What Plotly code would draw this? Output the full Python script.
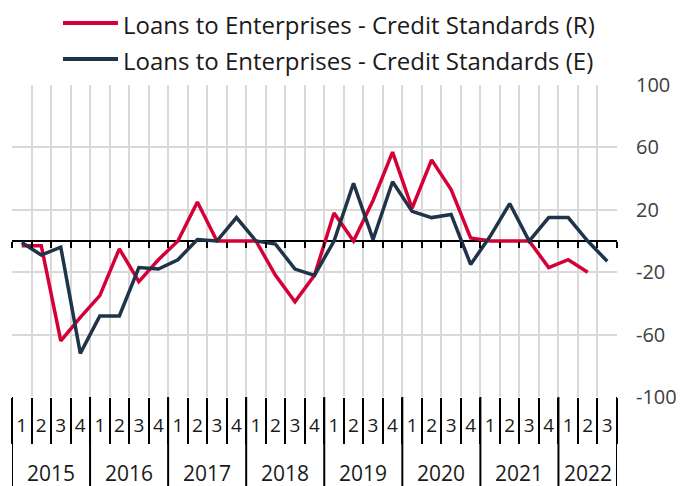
import plotly.graph_objects as go

# ---- data ----
years = ["2015", "2016", "2017", "2018", "2019", "2020", "2021", "2022"]
quarters_per_year = [4, 4, 4, 4, 4, 4, 4, 3]
series_names = ["Loans to Enterprises - Credit Standards (R)",
                "Loans to Enterprises - Credit Standards (E)"]
realised = [-3, -3, -64, -49,
            -35, -5, -26, -12,
            0, 25, 0, 0,
            0, -22, -39, -22,
            18, 0, 26, 57,
            21, 52, 33, 2,
            0, 0, 0, -17,
            -12, -20, None]
expected = [-1, -9, -4, -72,
            -48, -48, -17, -18,
            -12, 1, 0, 15,
            0, -2, -18, -22,
            0, 37, 1, 38,
            19, 15, 17, -15,
            3, 24, 0, 15,
            15, 0, -13]
y_ticks = [-100, -60, -20, 20, 60, 100]
y_tick_labels = ["-100", "-60", "-20", "20", "60", "100"]
colors = ["#D50037", "#1F3349"]

# ---- derived positions ----
quarter_labels = []
year_start = []
for yr, nq in zip(years, quarters_per_year):
    year_start.append(len(quarter_labels))
    quarter_labels += [str(q) for q in range(1, nq + 1)]
n = len(quarter_labels)
xs = list(range(n))
boundaries = [i - 0.5 for i in range(n + 1)]

FONT = "Open Sans"
OFF = 8                      # page body margin
W, H = 684 - OFF, 486 - OFF
ML, MR, MT, MB = 4, 67, 77, 89
PW, PH = W - ML - MR, H - MT - MB


def px_x(p):  # screen pixel -> paper x
    return (p - OFF - ML) / PW


def px_y(p):  # screen pixel -> paper y
    return (H - MB - (p - OFF)) / PH


fig = go.Figure()
for name, vals, c in zip(series_names, [realised, expected], colors):
    fig.add_trace(go.Scatter(x=xs, y=vals, mode="lines", name=name,
                             line=dict(color=c, width=3.5), showlegend=False))
# dummy trace to anchor the zero-line tick axis
fig.add_trace(go.Scatter(x=[None], y=[None], xaxis="x2", showlegend=False,
                         hoverinfo="skip"))

fig.update_layout(
    width=W, height=H,
    margin=dict(l=ML, r=MR, t=MT, b=MB),
    paper_bgcolor="white", plot_bgcolor="white",
    font=dict(family=FONT, size=20, color="#1a1a1a"),
    xaxis=dict(range=[-0.5, n - 0.5], tickmode="array", tickvals=xs,
               ticktext=quarter_labels, ticks="", showgrid=False,
               zeroline=False, showline=False,
               tickfont=dict(size=19, color="#1a1a1a", family=FONT),
               ticklabelstandoff=15,
               minor=dict(tickmode="array", tickvals=boundaries,
                          ticks="outside", ticklen=46, tickwidth=2,
                          tickcolor="#000000", showgrid=True,
                          gridcolor="#D9D9D9", gridwidth=2)),
    xaxis2=dict(overlaying="x", anchor="free", position=0.5,
                range=[-0.5, n - 0.5], tickmode="array", tickvals=boundaries,
                ticks="outside", ticklen=6, tickwidth=2, tickcolor="#000000",
                showticklabels=False, showgrid=False, zeroline=False,
                showline=False),
    yaxis=dict(range=[-100, 100], tickmode="array", tickvals=y_ticks,
               ticktext=y_tick_labels,
               side="right", ticks="", ticklabelstandoff=18,
               tickfont=dict(size=20, color="#404040", family=FONT),
               showgrid=True, gridcolor="#D9D9D9",
               gridwidth=2, zeroline=True, zerolinecolor="#000000",
               zerolinewidth=2, showline=False),
)

shapes = []
annotations = []
# year dividers
for s in year_start + [n]:
    shapes.append(dict(type="line", xref="x", yref="paper",
                       x0=s - 0.5, x1=s - 0.5, y0=0, y1=-MB / PH,
                       line=dict(color="#000000", width=2)))
# year labels
for yr, s, nq in zip(years, year_start, quarters_per_year):
    annotations.append(dict(x=s + (nq - 1) / 2, y=px_y(473), xref="x",
                            yref="paper", text=yr, showarrow=False,
                            xanchor="center", yanchor="middle",
                            font=dict(size=21, color="#1a1a1a", family=FONT)))
# legend
for name, c, ly in zip(series_names, colors, [23, 59]):
    shapes.append(dict(type="line", xref="paper", yref="paper",
                       x0=px_x(63), x1=px_x(118), y0=px_y(ly), y1=px_y(ly),
                       line=dict(color=c, width=4)))
    annotations.append(dict(x=px_x(121), y=px_y(ly + 1), xref="paper",
                            yref="paper", text=name, showarrow=False,
                            xanchor="left", yanchor="middle",
                            font=dict(size=24, color="#1a1a1a", family=FONT)))

fig.update_layout(shapes=shapes, annotations=annotations)
fig.write_html("out.html")
